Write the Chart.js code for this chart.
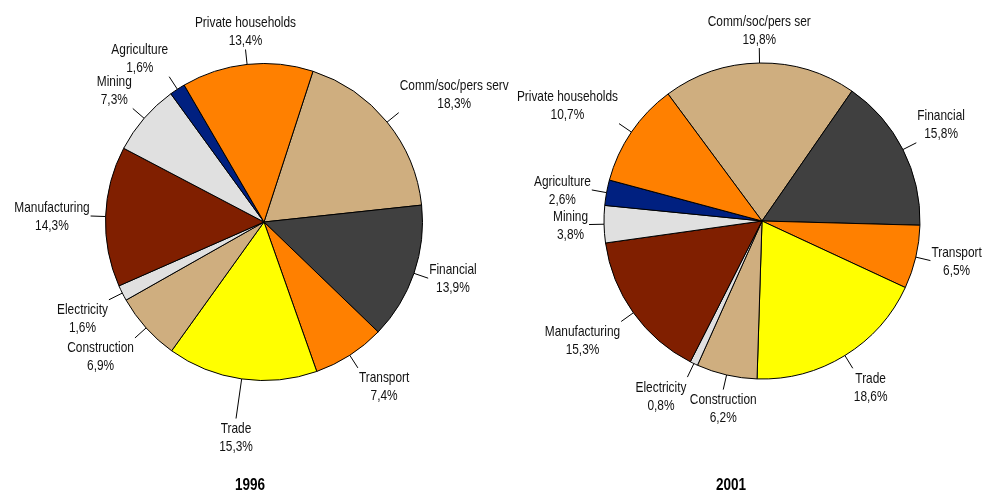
<!DOCTYPE html>
<html><head><meta charset="utf-8">
<script src="https://cdn.jsdelivr.net/npm/chart.js@4.4.0/dist/chart.umd.min.js"></script>
<style>
html,body{margin:0;padding:0;background:#fff;}
#wrap{position:relative;width:985px;height:491px;overflow:hidden;}
#wrap canvas{position:absolute;left:0;top:0;}
</style></head><body>
<div id="wrap"><canvas id="c1" width="985" height="491"></canvas><canvas id="c2" width="985" height="491"></canvas></div>
<script>
// ---- data ----
const categories1996 = ['Comm/soc/pers serv','Financial','Transport','Trade','Construction','Electricity','Manufacturing','Mining','Agriculture','Private households'];
const values1996 = [18.3, 13.9, 7.4, 15.3, 6.9, 1.6, 14.3, 7.3, 1.6, 13.4];
const categories2001 = ['Comm/soc/pers ser','Financial','Transport','Trade','Construction','Electricity','Manufacturing','Mining','Agriculture','Private households'];
const values2001 = [19.8, 15.8, 6.5, 18.6, 6.2, 0.8, 15.3, 3.8, 2.6, 10.7];
const years = ['1996', '2001'];

// ---- styles ----
const sectorColors = ['#CFAE7F','#404040','#FF8000','#FFFF00','#CFAE7F','#E0E0E0','#801F00','#E0E0E0','#002080','#FF8000'];

function hasFont(name){
  const c = document.createElement('canvas').getContext('2d');
  const s = 'Private households 0123';
  c.font = '20px monospace'; const a = c.measureText(s).width;
  c.font = '20px "' + name + '", monospace'; const b = c.measureText(s).width;
  return Math.abs(a - b) > 0.5;
}
const narrow = hasFont('Liberation Sans Narrow');
const FAM = narrow ? '"Liberation Sans Narrow", "Arial Narrow", sans-serif' : '"Liberation Sans", Arial, sans-serif';
const XS = narrow ? 1 : 0.82;
const labelFont = '14.5px ' + FAM;
const titleFont = 'bold 16.5px ' + FAM;

const fmtPct = v => v.toFixed(1).replace('.', ',') + '%';

function textW(ctx, t){ return ctx.measureText(t).width * XS; }
function drawT(ctx, t, x, y){
  ctx.save(); ctx.translate(x, y); ctx.scale(XS, 1); ctx.fillText(t, 0, 0); ctx.restore();
}

const sliceLabels = {
  id: 'sliceLabels',
  afterDatasetsDraw(chart, args, opts){
    const ctx = chart.ctx;
    const meta = chart.getDatasetMeta(0);
    const ds = chart.data.datasets[0];
    ctx.save();
    ctx.font = labelFont;
    ctx.fillStyle = '#111';
    ctx.strokeStyle = '#000';
    ctx.lineWidth = 1;
    ctx.textAlign = 'center';
    ctx.textBaseline = 'alphabetic';
    meta.data.forEach((arc, i) => {
      const p = arc.getProps(['x','y','startAngle','endAngle','outerRadius'], true);
      const mid = (p.startAngle + p.endAngle) / 2;
      const dx = Math.cos(mid), dy = Math.sin(mid);
      const len = (opts.leader && opts.leader[i]) || 15;
      const r = p.outerRadius;
      const ex = p.x + dx * (r + len), ey = p.y + dy * (r + len);
      ctx.beginPath();
      ctx.moveTo(p.x + dx * r, p.y + dy * r);
      ctx.lineTo(ex, ey);
      ctx.stroke();
      const l1 = chart.data.labels[i], l2 = fmtPct(ds.data[i]);
      const W = Math.max(textW(ctx, l1), textW(ctx, l2));
      const hx = dx > 0.38 ? 1 : (dx < -0.38 ? -1 : 0);
      const hy = dy > 0.38 ? 1 : (dy < -0.38 ? -1 : 0);
      const cx = ex + hx * (W / 2 + 1);
      const cy = ey + hy * 18.5;
      drawT(ctx, l1, cx, cy - 9 + 5);
      drawT(ctx, l2, cx, cy + 9 + 5);
    });
    ctx.font = titleFont;
    ctx.fillStyle = '#000';
    drawT(ctx, opts.title, opts.titleX, opts.titleY);
    ctx.restore();
  }
};

function makePie(id, labels, values, cfg){
  return new Chart(document.getElementById(id), {
    type: 'pie',
    data: {
      labels: labels,
      datasets: [{
        data: values,
        backgroundColor: sectorColors,
        borderColor: '#000',
        borderWidth: 1,
        radius: cfg.radius
      }]
    },
    options: {
      responsive: false,
      animation: false,
      devicePixelRatio: 1,
      rotation: cfg.rotation,
      radius: cfg.radius,
      layout: { padding: cfg.padding },
      plugins: {
        legend: { display: false },
        tooltip: { enabled: false },
        title: { display: false },
        sliceLabels: { leader: cfg.leader, title: cfg.title, titleX: cfg.titleX, titleY: cfg.titleY }
      }
    },
    plugins: [sliceLabels]
  });
}

makePie('c1', categories1996, values1996, {
  rotation: 18, radius: 158.5,
  padding: { left: 104, top: 62, right: 561, bottom: 109 },
  leader: { 3: 40 },
  title: years[0], titleX: 250, titleY: 490
});
makePie('c2', categories2001, values2001, {
  rotation: -36.5, radius: 158,
  padding: { left: 602, top: 61, right: 63, bottom: 110 },
  leader: {},
  title: years[1], titleX: 731, titleY: 490
});
</script>
</body></html>
